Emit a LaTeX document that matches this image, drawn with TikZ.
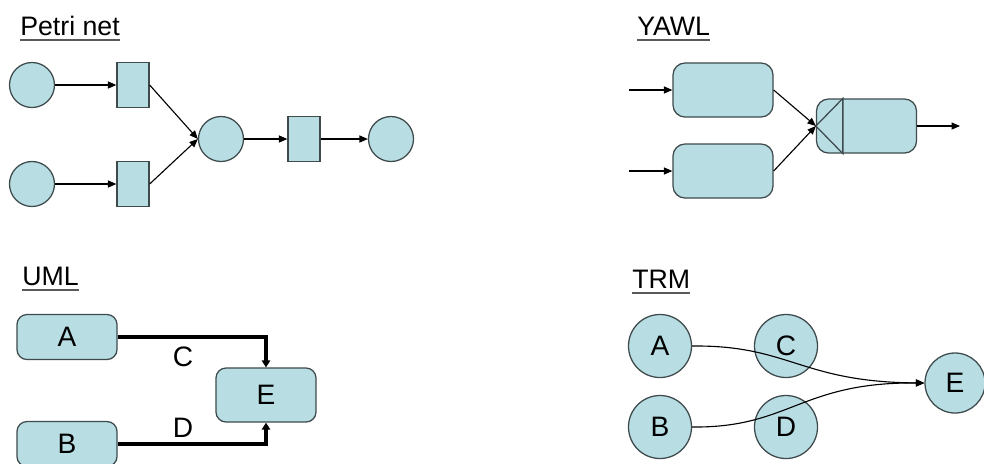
\documentclass[tikz,border=0pt]{standalone}
\usepackage{fontspec}
\setmainfont{Liberation Sans}
\usetikzlibrary{arrows.meta, calc}

\definecolor{fillblue}{RGB}{184,222,228}
\definecolor{edgegray}{RGB}{62,74,76}

\begin{document}
\begin{tikzpicture}[
    x=0.025cm, y=-0.025cm,
    place/.style={circle, draw=edgegray, fill=fillblue, line width=0.9pt, minimum size=1.125cm, inner sep=0pt},
    trans/.style={rectangle, draw=edgegray, fill=fillblue, line width=0.9pt, minimum width=0.8cm, minimum height=1.125cm, inner sep=0pt},
    task/.style={rectangle, rounded corners=0.3cm, draw=edgegray, fill=fillblue, line width=0.9pt, minimum width=2.5cm, minimum height=1.35cm, inner sep=0pt},
    umlbox/.style={task, rounded corners=0.25cm, minimum height=1.125cm, font=\fontsize{20}{22}\selectfont},
    trmnode/.style={place, minimum size=1.575cm, font=\fontsize{20}{22}\selectfont},
    title/.style={anchor=base west, inner xsep=0pt, inner ysep=3.2pt, font=\fontsize{19}{22}\selectfont},
    tag/.style={inner sep=0pt, font=\fontsize{20}{22}\selectfont},
    rule/.style={draw=black!65, line width=1.2pt},
    arr/.style={-{Triangle[length=6pt, width=5pt]}, draw=black, line width=0.8pt},
    umlarr/.style={-{Triangle[length=5pt, width=6pt]}, draw=black, line width=2.2pt}
  ]
    \useasboundingbox (0,0) rectangle (984,463);

    \node[title] (petri) at (20,35) {Petri net};
    \draw[rule] (petri.south west) -- (petri.south east);
    \node[place] (p1) at (32,85) {};
    \node[place] (p2) at (32,184) {};
    \node[trans] (t1) at (133,85) {};
    \node[trans] (t2) at (133,184) {};
    \node[place] (p3) at (221,139) {};
    \node[trans] (t3) at (304,139) {};
    \node[place] (p4) at (391,139) {};
    \draw[arr] (p1) -- (t1);
    \draw[arr] (p2) -- (t2);
    \draw[arr] (t1.east) -- (p3.west);
    \draw[arr] (t2.east) -- (p3.west);
    \draw[arr] (p3) -- (t3);
    \draw[arr] (t3) -- (p4);

    \node[title] (yawl) at (637,35) {YAWL};
    \draw[rule] (yawl.south west) -- (yawl.south east);
    \node[task] (y1) at (723,90) {};
    \node[task] (y2) at (723,171) {};
    \node[task] (y3) at (866.5,126) {};
    \draw[draw=edgegray, line width=0.9pt] ($(y3.north west)+(27,0)$) -- (y3.west) -- ($(y3.south west)+(27,0)$) -- cycle;
    \coordinate (in1) at (629,90);
    \coordinate (in2) at (629,171);
    \coordinate (out) at (960,126);
    \draw[arr] (in1) -- (y1);
    \draw[arr] (in2) -- (y2);
    \draw[arr] (y1.east) -- (y3.west);
    \draw[arr] (y2.east) -- (y3.west);
    \draw[arr] (y3) -- (out);

    \node[title] (uml) at (22,285) {UML};
    \draw[rule] (uml.south west) -- (uml.south east);
    \node[umlbox] (ua) at (67,337) {A};
    \node[umlbox] (ub) at (67,444) {B};
    \node[umlbox, minimum height=1.35cm] (ue) at (266,395) {E};
    \draw[umlarr] (ua.east) -| (ue.north);
    \draw[umlarr] (ub.east) -| (ue.south);
    \node[tag] (uc) at (183,357) {C};
    \node[tag] (ud) at (183,428) {D};

    \node[title] (trm) at (632,288) {TRM};
    \draw[rule] (trm.south west) -- (trm.south east);
    \node[trmnode] (ta) at (660,346) {A};
    \node[trmnode] (tc) at (786,346) {C};
    \node[trmnode] (tb) at (660,427) {B};
    \node[trmnode] (td) at (786,427) {D};
    \node[trmnode, minimum size=1.5cm] (te) at (955,383) {E};
    \draw[arr] (ta.east) .. controls (790,345) and (800,382) .. (te.west);
    \draw[arr] (tb.east) .. controls (790,428) and (800,382) .. (te.west);
  \end{tikzpicture}
\end{document}
